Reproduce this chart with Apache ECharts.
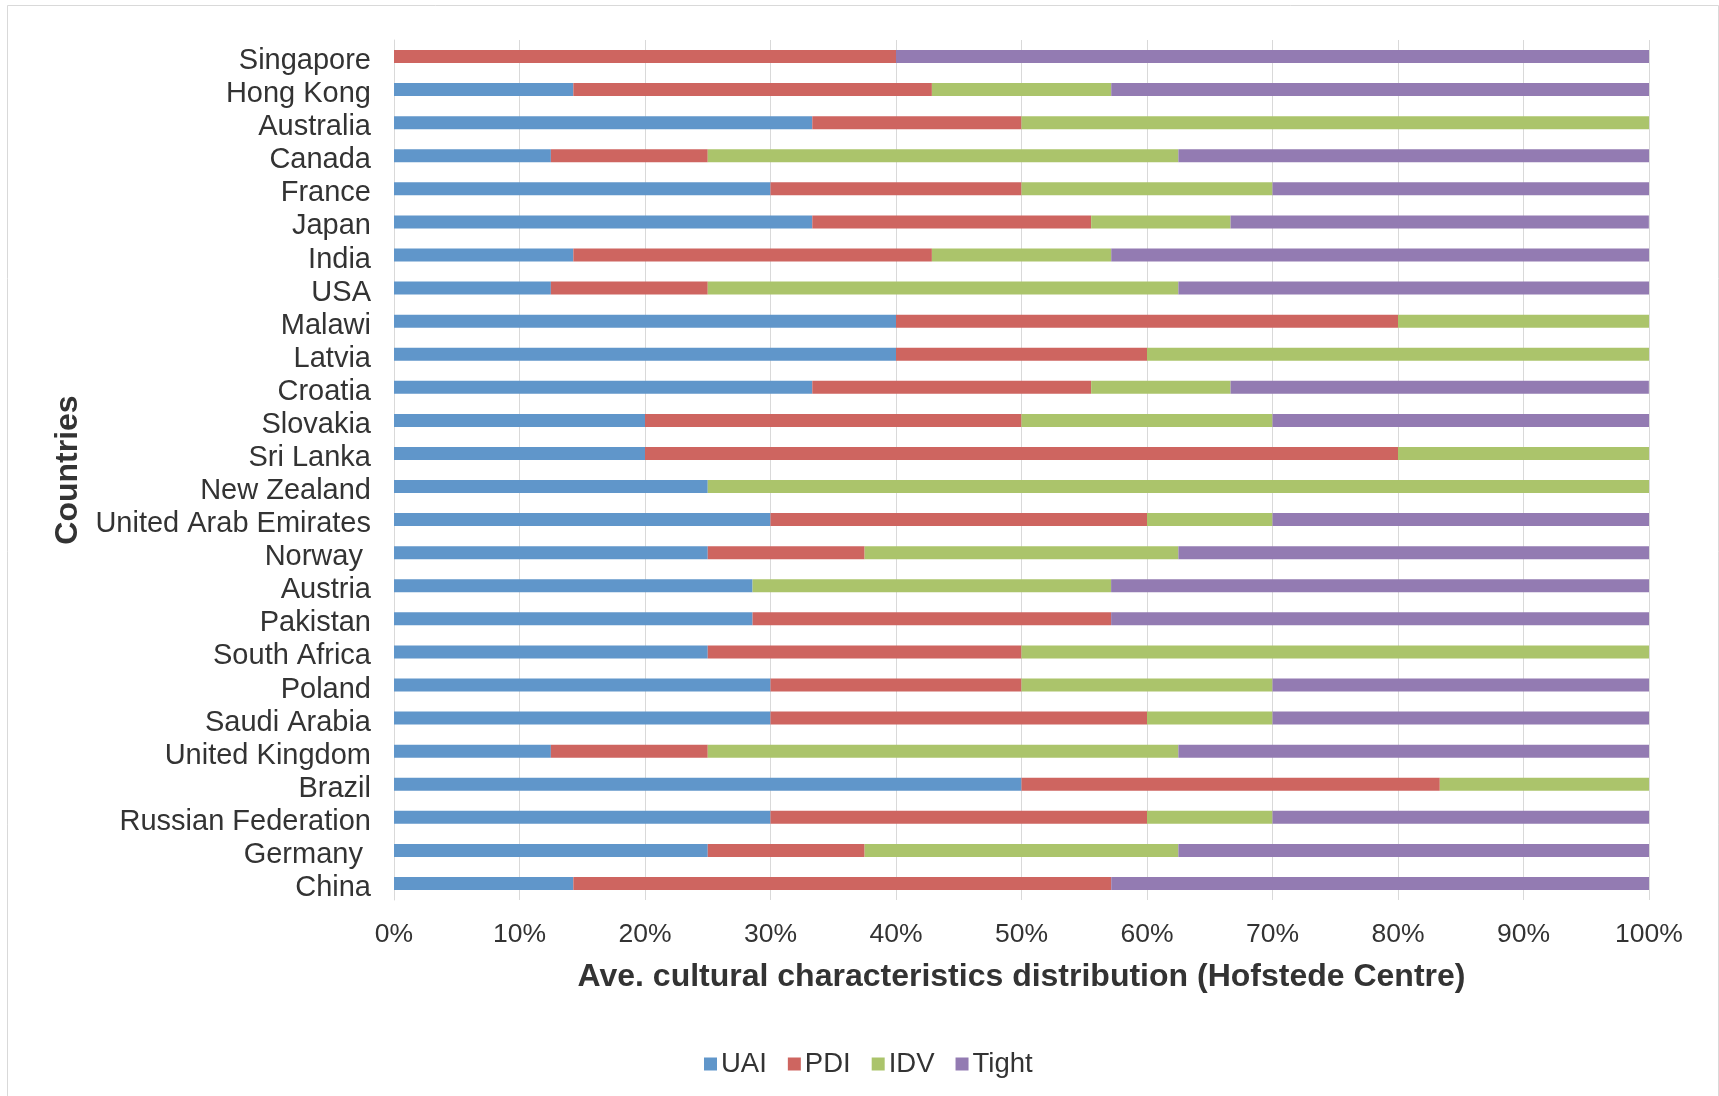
<!DOCTYPE html>
<html>
<head>
<meta charset="utf-8">
<script src="https://cdn.jsdelivr.net/npm/echarts@6/dist/echarts.min.js"></script>
<style>
html,body{margin:0;padding:0;background:#fff;}
#chart{width:1719px;height:1096px;}
</style>
</head>
<body>
<div id="chart"></div>
<script>
const countries = ["Singapore","Hong Kong","Australia","Canada","France","Japan","India","USA","Malawi","Latvia","Croatia","Slovakia","Sri Lanka","New Zealand","United Arab Emirates","Norway ","Austria","Pakistan","South Africa","Poland","Saudi Arabia","United Kingdom","Brazil","Russian Federation","Germany ","China"];
const UAI   = [0, 14.29, 33.33, 12.5, 30, 33.33, 14.29, 12.5, 40, 40, 33.33, 20, 20, 25, 30, 25, 28.57, 28.57, 25, 30, 30, 12.5, 50, 30, 25, 14.29];
const PDI   = [40, 28.57, 16.67, 12.5, 20, 22.22, 28.57, 12.5, 40, 20, 22.22, 30, 60, 0, 30, 12.5, 0, 28.57, 25, 20, 30, 12.5, 33.33, 30, 12.5, 42.86];
const IDV   = [0, 14.29, 50, 37.5, 20, 11.11, 14.29, 37.5, 20, 40, 11.11, 20, 20, 75, 10, 25, 28.57, 0, 50, 20, 10, 37.5, 16.67, 10, 25, 0];
const Tight = [60, 42.86, 0, 37.5, 30, 33.33, 42.86, 37.5, 0, 0, 33.33, 30, 0, 0, 30, 37.5, 42.86, 42.86, 0, 30, 30, 37.5, 0, 30, 37.5, 42.86];
const xTicks = [0,10,20,30,40,50,60,70,80,90,100];

const FONT = "Liberation Sans, Arial, Helvetica, sans-serif";
const colors = ['#6096CA', '#CE6560', '#ABC46B', '#937BB2'];
const seriesDefs = [['UAI', UAI], ['PDI', PDI], ['IDV', IDV], ['Tight', Tight]];

const chart = echarts.init(document.getElementById('chart'), null, {renderer: 'canvas'});
chart.setOption({
  animation: false,
  backgroundColor: '#ffffff',
  color: colors,
  graphic: [{
    type: 'rect',
    shape: {x: 7.5, y: 5.5, width: 1711, height: 1100},
    style: {fill: 'none', stroke: '#D9D9D9', lineWidth: 1},
    silent: true
  }],
  grid: {left: 394, right: 70, top: 40, bottom: 196, containLabel: false},
  legend: {
    data: seriesDefs.map(d => d[0]),
    left: 699,
    top: 1045,
    icon: 'rect',
    itemWidth: 13,
    itemHeight: 13,
    itemGap: 21,
    textStyle: {fontFamily: FONT, fontSize: 27.5, color: '#333333', padding: [0, 0, 0, -1]}
  },
  xAxis: {
    type: 'value',
    min: 0,
    max: 100,
    interval: 10,
    name: 'Ave. cultural characteristics distribution (Hofstede Centre)',
    nameLocation: 'middle',
    nameGap: 61,
    nameTextStyle: {fontFamily: FONT, fontSize: 32, fontWeight: 'bold', color: '#333333'},
    axisLine: {show: false},
    axisTick: {show: false},
    axisLabel: {
      fontFamily: FONT, fontSize: 26.5, color: '#333333', margin: 21,
      formatter: v => xTicks.indexOf(v) >= 0 ? v + '%' : ''
    },
    splitLine: {show: true, lineStyle: {color: '#D9D9D9', width: 1}}
  },
  yAxis: {
    type: 'category',
    data: countries,
    inverse: true,
    name: 'Countries',
    nameLocation: 'middle',
    nameGap: 310,
    nameRotate: 90,
    nameTextStyle: {fontFamily: FONT, fontSize: 32, fontWeight: 'bold', color: '#333333'},
    axisLine: {show: true, lineStyle: {color: '#D9D9D9'}},
    axisTick: {show: false},
    axisLabel: {
      interval: 0, margin: 23,
      formatter: v => '{c|' + v + '}',
      rich: {c: {fontFamily: FONT, fontSize: 29, color: '#333333', padding: [9, 0, 0, 0]}}
    }
  },
  series: seriesDefs.map(d => ({
    name: d[0],
    type: 'bar',
    stack: 'total',
    barWidth: 13,
    data: d[1]
  }))
});
</script>
</body>
</html>
